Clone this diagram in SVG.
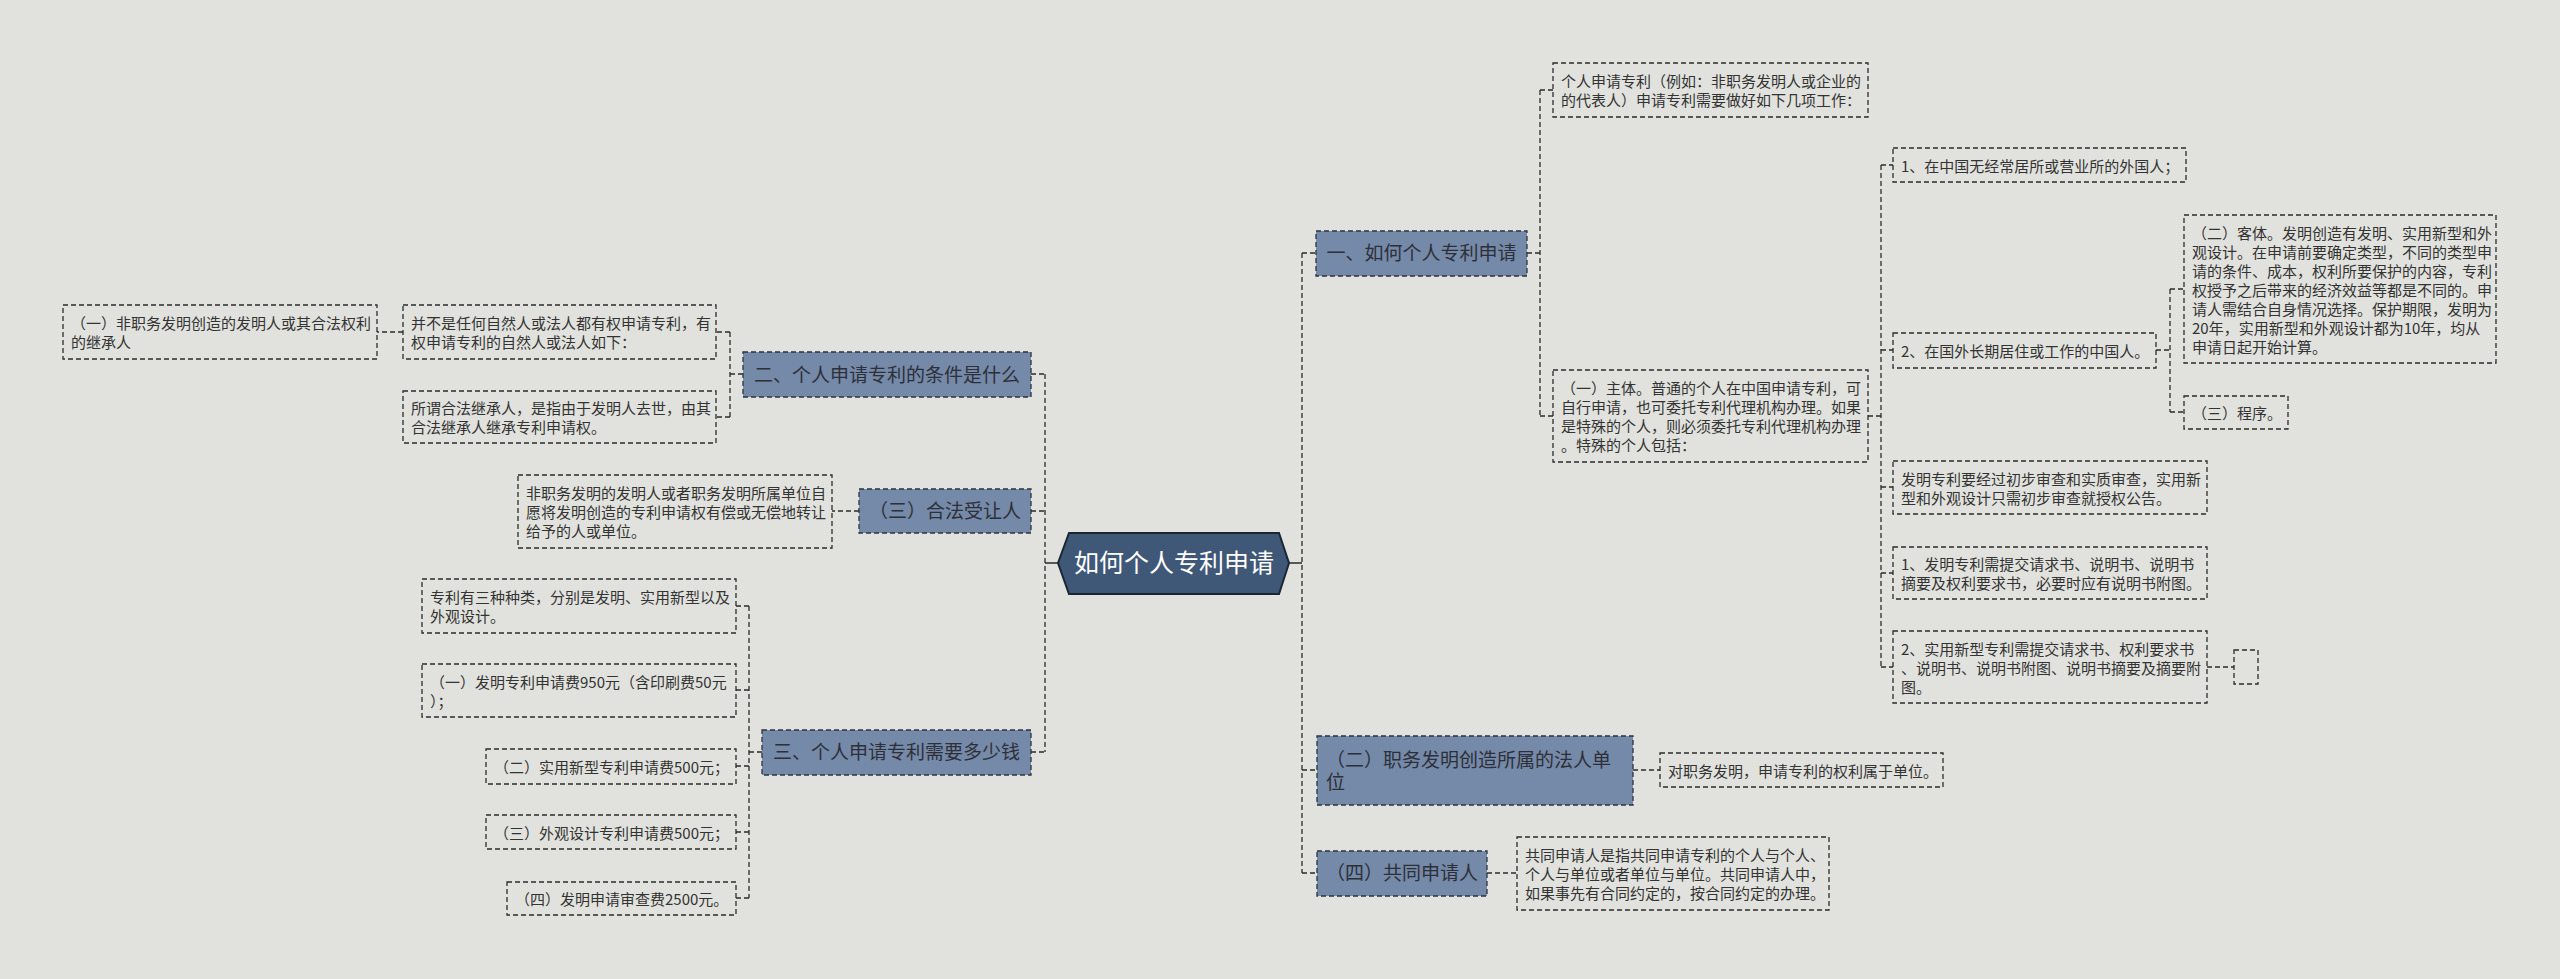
<svg xmlns="http://www.w3.org/2000/svg" width="2560" height="979" viewBox="0 0 2560 979">
<style>
.bg{fill:#e1e2dd}
.leaf{fill:none;stroke:#2b2b2b;stroke-width:1.3;stroke-dasharray:5 3}
.br{fill:#7589a8;stroke:#2b3340;stroke-width:1.3;stroke-dasharray:5 3}
.t{font-family:"Noto Sans CJK SC","Noto Sans",sans-serif;font-size:15px;fill:#333}
.bt{font-family:"Noto Sans CJK SC","Noto Sans",sans-serif;font-size:19px;fill:#2d3038}
.rt{font-family:"Noto Sans CJK SC","Noto Sans",sans-serif;font-size:25px;fill:#ffffff}
.c{fill:none;stroke:#2b2b2b;stroke-width:1.3;stroke-dasharray:5 3}
.cs{fill:none;stroke:#2b2b2b;stroke-width:1.5}
</style>
<rect class="bg" x="0" y="0" width="2560" height="979"/>
<g id="connectors">
<path class="cs" d="M1058 563H1045M1289 563H1302"/>
<path class="c" d="M1045 374V752M1031 374H1045M1031 511H1045M1031 752H1045"/>
<path class="c" d="M730 332V417M743 374H730M730 332H716M730 417H716M403 332H377"/>
<path class="c" d="M859 511H832"/>
<path class="c" d="M749 606V898M762 752H749M749 606H736M749 690H736M749 766H736M749 832H736M749 898H736"/>
<path class="c" d="M1302 253V873M1302 253H1316M1302 770H1317M1302 873H1317"/>
<path class="c" d="M1527 253H1540M1540 90V416M1540 90H1553M1540 416H1553"/>
<path class="c" d="M1868 416H1881M1881 165V667M1881 165H1893M1881 350H1893M1881 487H1893M1881 573H1893M1881 667H1893"/>
<path class="c" d="M2156 350H2170M2170 289V412M2170 289H2184M2170 412H2184"/>
<path class="c" d="M2207 667H2234"/>
<path class="c" d="M1633 770H1660M1487 873H1517"/>
</g>
<g id="root">
<polygon points="1058,563 1069,533 1279,533 1289,563 1279,594 1069,594" fill="#3f5878" stroke="#1c2633" stroke-width="2"/>
<text class="rt" x="1174" y="572" text-anchor="middle">如何个人专利申请</text>
</g>
<g id="b2">
<rect class="br" x="743" y="352" width="288" height="45"/>
<text class="bt" x="887" y="381.5" text-anchor="middle">二、个人申请专利的条件是什么</text>
</g>
<g id="b3">
<rect class="br" x="859" y="489" width="172" height="44"/>
<text class="bt" x="945" y="518" text-anchor="middle">（三）合法受让人</text>
</g>
<g id="b4">
<rect class="br" x="762" y="730" width="269" height="45"/>
<text class="bt" x="896.5" y="759" text-anchor="middle">三、个人申请专利需要多少钱</text>
</g>
<g id="b1">
<rect class="br" x="1316" y="231" width="211" height="45"/>
<text class="bt" x="1421.5" y="260" text-anchor="middle">一、如何个人专利申请</text>
</g>
<g id="b5">
<rect class="br" x="1317" y="736" width="316" height="69"/>
<text class="bt" x="1326" y="766.5">（二）职务发明创造所属的法人单</text>
<text class="bt" x="1326" y="788.5">位</text>
</g>
<g id="b6">
<rect class="br" x="1317" y="851" width="170" height="45"/>
<text class="bt" x="1402" y="880" text-anchor="middle">（四）共同申请人</text>
</g>
<g id="nA">
<rect class="leaf" x="63" y="305" width="314" height="54"/>
<text class="t" x="71" y="329">（一）非职务发明创造的发明人或其合法权利</text>
<text class="t" x="71" y="348">的继承人</text>
</g>
<g id="nB">
<rect class="leaf" x="403" y="305" width="313" height="54"/>
<text class="t" x="411" y="329">并不是任何自然人或法人都有权申请专利，有</text>
<text class="t" x="411" y="348">权申请专利的自然人或法人如下：</text>
</g>
<g id="nC">
<rect class="leaf" x="403" y="391" width="313" height="52"/>
<text class="t" x="411" y="414">所谓合法继承人，是指由于发明人去世，由其</text>
<text class="t" x="411" y="433">合法继承人继承专利申请权。</text>
</g>
<g id="nD">
<rect class="leaf" x="518" y="475" width="314" height="73"/>
<text class="t" x="526" y="499">非职务发明的发明人或者职务发明所属单位自</text>
<text class="t" x="526" y="518">愿将发明创造的专利申请权有偿或无偿地转让</text>
<text class="t" x="526" y="537">给予的人或单位。</text>
</g>
<g id="nE">
<rect class="leaf" x="422" y="579" width="314" height="54"/>
<text class="t" x="430" y="603">专利有三种种类，分别是发明、实用新型以及</text>
<text class="t" x="430" y="622">外观设计。</text>
</g>
<g id="nF">
<rect class="leaf" x="422" y="664" width="314" height="53"/>
<text class="t" x="430" y="687.5">（一）发明专利申请费950元（含印刷费50元</text>
<text class="t" x="430" y="706.5">）；</text>
</g>
<g id="nG">
<rect class="leaf" x="486" y="749" width="250" height="35"/>
<text class="t" x="494" y="773">（二）实用新型专利申请费500元；</text>
</g>
<g id="nH">
<rect class="leaf" x="486" y="815" width="250" height="34"/>
<text class="t" x="494" y="838.5">（三）外观设计专利申请费500元；</text>
</g>
<g id="nI">
<rect class="leaf" x="507" y="882" width="229" height="33"/>
<text class="t" x="515" y="905">（四）发明申请审查费2500元。</text>
</g>
<g id="r1">
<rect class="leaf" x="1553" y="63" width="315" height="54"/>
<text class="t" x="1561" y="87">个人申请专利（例如：非职务发明人或企业的</text>
<text class="t" x="1561" y="106">的代表人）申请专利需要做好如下几项工作：</text>
</g>
<g id="r2">
<rect class="leaf" x="1553" y="370" width="315" height="92"/>
<text class="t" x="1561" y="394">（一）主体。普通的个人在中国申请专利，可</text>
<text class="t" x="1561" y="413">自行申请，也可委托专利代理机构办理。如果</text>
<text class="t" x="1561" y="432">是特殊的个人，则必须委托专利代理机构办理</text>
<text class="t" x="1561" y="451">。特殊的个人包括：</text>
</g>
<g id="r3">
<rect class="leaf" x="1893" y="148" width="293" height="34"/>
<text class="t" x="1901" y="171.5">1、在中国无经常居所或营业所的外国人；</text>
</g>
<g id="r4">
<rect class="leaf" x="1893" y="333" width="263" height="35"/>
<text class="t" x="1901" y="357">2、在国外长期居住或工作的中国人。</text>
</g>
<g id="r5">
<rect class="leaf" x="2184" y="215" width="312" height="148"/>
<text class="t" x="2192" y="238.5">（二）客体。发明创造有发明、实用新型和外</text>
<text class="t" x="2192" y="257.5">观设计。在申请前要确定类型，不同的类型申</text>
<text class="t" x="2192" y="276.5">请的条件、成本，权利所要保护的内容，专利</text>
<text class="t" x="2192" y="295.5">权授予之后带来的经济效益等都是不同的。申</text>
<text class="t" x="2192" y="314.5">请人需结合自身情况选择。保护期限，发明为</text>
<text class="t" x="2192" y="333.5">20年，实用新型和外观设计都为10年，均从</text>
<text class="t" x="2192" y="352.5">申请日起开始计算。</text>
</g>
<g id="r6">
<rect class="leaf" x="2184" y="396" width="104" height="33"/>
<text class="t" x="2192" y="419">（三）程序。</text>
</g>
<g id="r7">
<rect class="leaf" x="1893" y="461" width="314" height="53"/>
<text class="t" x="1901" y="484.5">发明专利要经过初步审查和实质审查，实用新</text>
<text class="t" x="1901" y="503.5">型和外观设计只需初步审查就授权公告。</text>
</g>
<g id="r8">
<rect class="leaf" x="1893" y="547" width="314" height="52"/>
<text class="t" x="1901" y="570">1、发明专利需提交请求书、说明书、说明书</text>
<text class="t" x="1901" y="589">摘要及权利要求书，必要时应有说明书附图。</text>
</g>
<g id="r9">
<rect class="leaf" x="1893" y="631" width="314" height="72"/>
<text class="t" x="1901" y="654.5">2、实用新型专利需提交请求书、权利要求书</text>
<text class="t" x="1901" y="673.5">、说明书、说明书附图、说明书摘要及摘要附</text>
<text class="t" x="1901" y="692.5">图。</text>
</g>
<g id="r10">
<rect class="leaf" x="2234" y="650" width="24" height="34"/>
</g>
<g id="r11">
<rect class="leaf" x="1660" y="753" width="283" height="34"/>
<text class="t" x="1668" y="776.5">对职务发明，申请专利的权利属于单位。</text>
</g>
<g id="r12">
<rect class="leaf" x="1517" y="837" width="312" height="73"/>
<text class="t" x="1525" y="861">共同申请人是指共同申请专利的个人与个人、</text>
<text class="t" x="1525" y="880">个人与单位或者单位与单位。共同申请人中，</text>
<text class="t" x="1525" y="899">如果事先有合同约定的，按合同约定的办理。</text>
</g>
</svg>
